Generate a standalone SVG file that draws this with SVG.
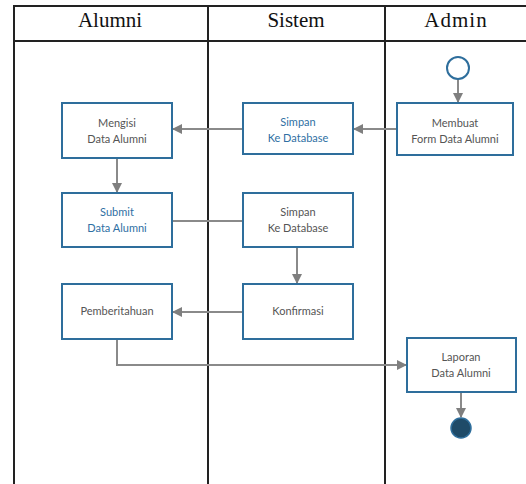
<svg xmlns="http://www.w3.org/2000/svg" width="526" height="484" viewBox="0 0 526 484">
<defs>
<marker id="ah" viewBox="0 0 10 10" refX="9" refY="5" markerWidth="5" markerHeight="5" orient="auto" markerUnits="strokeWidth">
<path d="M0,0 L10,5 L0,10 z" fill="#7f7f7f"/>
</marker>
<style>
.lane{stroke:#222;stroke-width:2;fill:none}
.hd{font-family:"Liberation Serif",serif;font-size:21px;fill:#111;text-anchor:middle}
.box{fill:#fff;stroke:#2e6e9c;stroke-width:2}
.t{font-family:Lato,"Liberation Sans",sans-serif;font-size:11px;fill:#555;text-anchor:middle}
.tb{fill:#2f6fa3}
.c{stroke:#8a8a8a;stroke-width:2;fill:none}
.ca{stroke:#8a8a8a;stroke-width:2;fill:none;marker-end:url(#ah)}
</style>
</defs>
<rect width="526" height="484" fill="#fff"/>
<g id="lanes">
<line class="lane" x1="13" y1="6" x2="526" y2="6"/>
<line class="lane" x1="13" y1="41" x2="526" y2="41"/>
<line class="lane" x1="14" y1="5" x2="14" y2="484"/>
<line class="lane" x1="208" y1="5" x2="208" y2="484"/>
<line class="lane" x1="385" y1="5" x2="385" y2="484"/>
<text class="hd" x="110" y="27">Alumni</text>
<text class="hd" x="296" y="27">Sistem</text>
<text class="hd" x="456" y="27" letter-spacing="1">Admin</text>
</g>
<g id="connectors">
<line class="ca" x1="458" y1="79" x2="458" y2="102"/>
<line class="ca" x1="397" y1="129" x2="354" y2="129"/>
<line class="ca" x1="243" y1="129" x2="173" y2="129"/>
<line class="ca" x1="117" y1="158" x2="117" y2="192"/>
<line class="c" x1="172" y1="221" x2="243" y2="221"/>
<line class="ca" x1="297" y1="247" x2="297" y2="283"/>
<line class="ca" x1="243" y1="312" x2="173" y2="312"/>
<polyline class="ca" points="117,339 117,365 406,365"/>
<line class="ca" x1="461" y1="392" x2="461" y2="417"/>
</g>
<g id="start"><circle cx="458" cy="68" r="11" fill="#fff" stroke="#2e6e9c" stroke-width="2"/></g>
<g id="membuat"><rect class="box" x="397" y="103" width="116" height="52"/>
<text class="t" x="455" y="127">Membuat</text><text class="t" x="455" y="143">Form Data Alumni</text></g>
<g id="simpan1"><rect class="box" x="243" y="103" width="110" height="51"/>
<text class="t tb" x="298" y="126">Simpan</text><text class="t tb" x="298" y="142">Ke Database</text></g>
<g id="mengisi"><rect class="box" x="62" y="103" width="110" height="55"/>
<text class="t" x="117" y="127">Mengisi</text><text class="t" x="117" y="143">Data Alumni</text></g>
<g id="submit"><rect class="box" x="62" y="193" width="110" height="54"/>
<text class="t tb" x="117" y="216">Submit</text><text class="t tb" x="117" y="232">Data Alumni</text></g>
<g id="simpan2"><rect class="box" x="243" y="193" width="110" height="54"/>
<text class="t" x="298" y="216">Simpan</text><text class="t" x="298" y="232">Ke Database</text></g>
<g id="konfirmasi"><rect class="box" x="243" y="284" width="110" height="55"/>
<text class="t" x="298" y="315">Konfirmasi</text></g>
<g id="pemberitahuan"><rect class="box" x="62" y="284" width="110" height="55"/>
<text class="t" x="117" y="315">Pemberitahuan</text></g>
<g id="laporan"><rect class="box" x="407" y="338" width="109" height="54"/>
<text class="t" x="461" y="361">Laporan</text><text class="t" x="461" y="377">Data Alumni</text></g>
<g id="end"><circle cx="461" cy="428" r="10" fill="#1f4b68" stroke="#2e6e9c" stroke-width="1.5"/></g>
</svg>
